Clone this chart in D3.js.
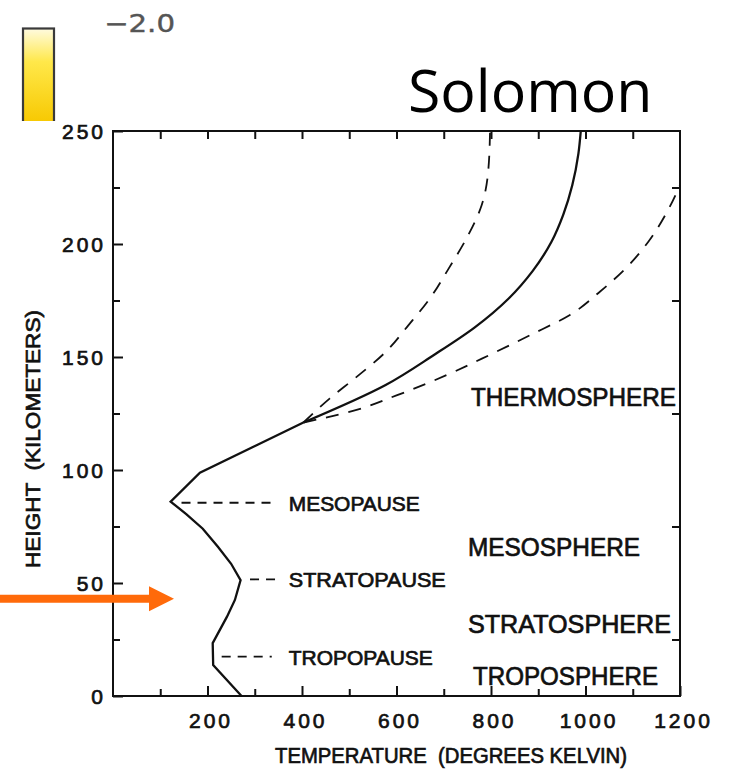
<!DOCTYPE html>
<html>
<head>
<meta charset="utf-8">
<script src="https://cdn.jsdelivr.net/npm/d3@7"></script>
<style>
  html, body { margin: 0; padding: 0; background: #fff; }
  svg { display: block; }
  text { font-family: "Liberation Sans", Arial, sans-serif; fill: #111; }
  .ink { stroke: #111; stroke-width: 0.7px; }
</style>
</head>
<body>
<svg id="plot"></svg>
<script>
// temperature profile (kelvin, km)
const lowerT = [272, 212, 211, 241, 258, 270, 250, 222, 190, 155, 122, 184, 403]
const lowerH = [0, 13.7, 23.4, 35, 42.5, 51.3, 58.5, 66, 74, 80.5, 86, 98.8, 121]

// thermosphere: mean, cold (solar min) and hot (solar max)
const meanT = [403, 577, 680, 765, 838, 888, 928, 953, 972, 985, 990]
const meanH = [121, 137.6, 151, 163, 176, 188, 201, 213, 226, 240, 250]
const coldT = [403, 459, 512, 576, 625, 671, 710, 752, 780, 794, 798]
const coldH = [121, 131.7, 140.6, 152, 164, 176, 189, 204, 217, 232, 250]
const hotT = [403, 502, 600, 706, 798, 883, 967, 1031, 1084, 1133, 1172, 1200]
const hotH = [121, 125.8, 133, 142, 151, 159.7, 168.6, 179, 189, 201, 214, 226]

// pauses: name, altitude, leader start / end (K)
const pauseNames = ['MESOPAUSE', 'STRATOPAUSE', 'TROPOPAUSE']
const pauseH = [85.5, 51.6, 17.4]
const pauseFrom = [145, 290, 230]
const pauseTo = [339, 350, 336]

// layer names and the altitude of their baseline
const layerNames = ['THERMOSPHERE', 'MESOSPHERE', 'STRATOSPHERE', 'TROPOSPHERE']
const layerH = [128.3, 62, 27.9, 4.9]

const xMajor = [200, 400, 600, 800, 1000, 1200]
const xMinor = [100, 300, 500, 700, 900, 1100]
const yMajor = [0, 50, 100, 150, 200, 250]
const yMinor = [25, 75, 125, 175, 225]

const width = 729
const height = 769

const x = d3.scaleLinear().domain([0, 1200]).range([113, 680])
const y = d3.scaleLinear().domain([0, 250]).range([696, 131])

const svg = d3.select('svg#plot')
  .attr('width', width)
  .attr('height', height)

// colour bar fragment peeking out above the figure
const grad = svg.append('defs').append('linearGradient')
  .attr('id', 'cbar')
  .attr('x1', 0).attr('y1', 0).attr('x2', 0).attr('y2', 1)
grad.append('stop').attr('offset', '0%').attr('stop-color', '#fffbe0')
grad.append('stop').attr('offset', '35%').attr('stop-color', '#ffe84a')
grad.append('stop').attr('offset', '100%').attr('stop-color', '#f7c800')

svg.append('rect')
  .attr('x', 23).attr('y', 28.5)
  .attr('width', 31).attr('height', 95)
  .attr('fill', 'url(#cbar)')
  .attr('stroke', '#3a3a3a')
  .attr('stroke-width', 2.2)

svg.append('text')
  .attr('x', 104).attr('y', 32)
  .attr('textLength', 71)
  .attr('lengthAdjust', 'spacingAndGlyphs')
  .style('font-family', '"DejaVu Sans", sans-serif')
  .style('font-size', '24px')
  .style('fill', '#555')
  .style('stroke', '#555')
  .style('stroke-width', '0.4px')
  .text('\u22122.0')

// white figure area covers the bar
svg.append('rect')
  .attr('x', 0).attr('y', 121)
  .attr('width', width).attr('height', height - 121)
  .attr('fill', '#fff')

svg.append('text')
  .attr('x', 408).attr('y', 112)
  .style('font-family', '"Open Sans", sans-serif')
  .style('font-size', '59px')
  .style('fill', '#000')
  .text('Solomon')

// axes, ticks point inward
function styleAxis(g) {
  g.select('.domain').remove()
  g.selectAll('.tick line').attr('stroke', '#111').attr('stroke-width', 2)
}

svg.append('g')
  .attr('transform', `translate(0, ${y(0)})`)
  .call(d3.axisBottom(x).tickValues(xMinor).tickSize(-7).tickFormat(''))
  .call(styleAxis)

svg.append('g')
  .attr('transform', `translate(0, ${y(0)})`)
  .call(d3.axisBottom(x).tickValues(xMajor).tickSize(-10).tickFormat(d3.format('d')))
  .call(styleAxis)
  .call(g => g.selectAll('text')
    .attr('class', 'ink')
    .attr('y', 32).attr('dy', 0).attr('dx', 3)
    .style('font-size', '21px')
    .style('letter-spacing', '3px')
    .style('font-family', '"Liberation Sans", Arial, sans-serif')
    .attr('fill', '#111'))

svg.append('g')
  .attr('transform', `translate(0, ${y(250)})`)
  .call(d3.axisTop(x).tickValues(xMinor.concat(xMajor.slice(0, 5)).sort(d3.ascending)).tickSize(-8).tickFormat(''))
  .call(styleAxis)

svg.append('g')
  .attr('transform', `translate(${x(0)}, 0)`)
  .call(d3.axisLeft(y).tickValues(yMinor).tickSize(-7).tickFormat(''))
  .call(styleAxis)

svg.append('g')
  .attr('transform', `translate(${x(0)}, 0)`)
  .call(d3.axisLeft(y).tickValues(yMajor).tickSize(-10).tickFormat(d3.format('d')))
  .call(styleAxis)
  .call(g => g.selectAll('text')
    .attr('class', 'ink')
    .attr('x', -7).attr('dy', '0.36em')
    .style('font-size', '21px')
    .style('letter-spacing', '3px')
    .style('font-family', '"Liberation Sans", Arial, sans-serif')
    .attr('fill', '#111'))

svg.append('g')
  .attr('transform', `translate(${x(1200)}, 0)`)
  .call(d3.axisRight(y).tickValues(yMinor).tickSize(-8).tickFormat(''))
  .call(styleAxis)

// frame
svg.append('rect')
  .attr('x', x(0)).attr('y', y(250))
  .attr('width', x(1200) - x(0)).attr('height', y(0) - y(250))
  .attr('fill', 'none')
  .attr('stroke', '#111')
  .attr('stroke-width', 2)

// axis titles
svg.append('text')
  .attr('class', 'ink')
  .attr('x', 275).attr('y', 763)
  .attr('textLength', 352)
  .attr('lengthAdjust', 'spacingAndGlyphs')
  .style('font-size', '22px')
  .style('white-space', 'pre')
  .text('TEMPERATURE  (DEGREES KELVIN)')

svg.append('text')
  .attr('class', 'ink')
  .attr('transform', 'translate(40, 568) rotate(-90)')
  .attr('textLength', 258)
  .attr('lengthAdjust', 'spacingAndGlyphs')
  .style('font-size', '21px')
  .style('white-space', 'pre')
  .text('HEIGHT  (KILOMETERS)')

// curves
const zip = (ts, hs) => ts.map((t, i) => [t, hs[i]])

const straight = d3.line()
  .x(d => x(d[0]))
  .y(d => y(d[1]))

const smooth = d3.line()
  .x(d => x(d[0]))
  .y(d => y(d[1]))
  .curve(d3.curveMonotoneY)

svg.append('path')
  .attr('d', straight(zip(lowerT, lowerH)))
  .attr('fill', 'none')
  .attr('stroke', '#111')
  .attr('stroke-width', 2.3)
  .attr('stroke-linejoin', 'miter')

svg.append('path')
  .attr('d', smooth(zip(meanT, meanH)))
  .attr('fill', 'none')
  .attr('stroke', '#111')
  .attr('stroke-width', 2.3)

svg.selectAll('path.dashed')
  .data([zip(coldT, coldH), zip(hotT, hotH)])
  .join('path')
    .attr('class', 'dashed')
    .attr('d', d => smooth(d))
    .attr('fill', 'none')
    .attr('stroke', '#111')
    .attr('stroke-width', 1.8)
    .attr('stroke-dasharray', '13,10')

// pause leaders and labels
svg.selectAll('line.leader')
  .data(pauseNames)
  .join('line')
    .attr('class', 'leader')
    .attr('x1', (d, i) => x(pauseFrom[i]))
    .attr('x2', (d, i) => x(pauseTo[i]))
    .attr('y1', (d, i) => y(pauseH[i]))
    .attr('y2', (d, i) => y(pauseH[i]))
    .attr('stroke', '#111')
    .attr('stroke-width', 1.8)
    .attr('stroke-dasharray', '9,7')

const pauseWidth = [131, 157, 144]
svg.selectAll('text.pause')
  .data(pauseNames)
  .join('text')
    .attr('class', 'pause ink')
    .attr('x', x(372))
    .attr('y', (d, i) => y(pauseH[i]) + 8)
    .attr('textLength', (d, i) => pauseWidth[i])
    .attr('lengthAdjust', 'spacingAndGlyphs')
    .style('font-size', '21px')
    .text(d => d)

const layerWidth = [205, 172, 203, 185]
const layerX = [471, 468, 468, 473]
svg.selectAll('text.layer')
  .data(layerNames)
  .join('text')
    .attr('class', 'layer ink')
    .attr('x', (d, i) => layerX[i])
    .attr('y', (d, i) => y(layerH[i]))
    .attr('textLength', (d, i) => layerWidth[i])
    .attr('lengthAdjust', 'spacingAndGlyphs')
    .style('font-size', '25px')
    .text(d => d)

// orange pointer at ~43 km
const arrowH = 43
const ay = y(arrowH)
svg.append('path')
  .attr('d', `M0,${ay - 4}H149V${ay - 12.5}L174,${ay}L149,${ay + 12.5}V${ay + 4}H0Z`)
  .attr('fill', '#ff6a0a')
</script>
</body>
</html>
